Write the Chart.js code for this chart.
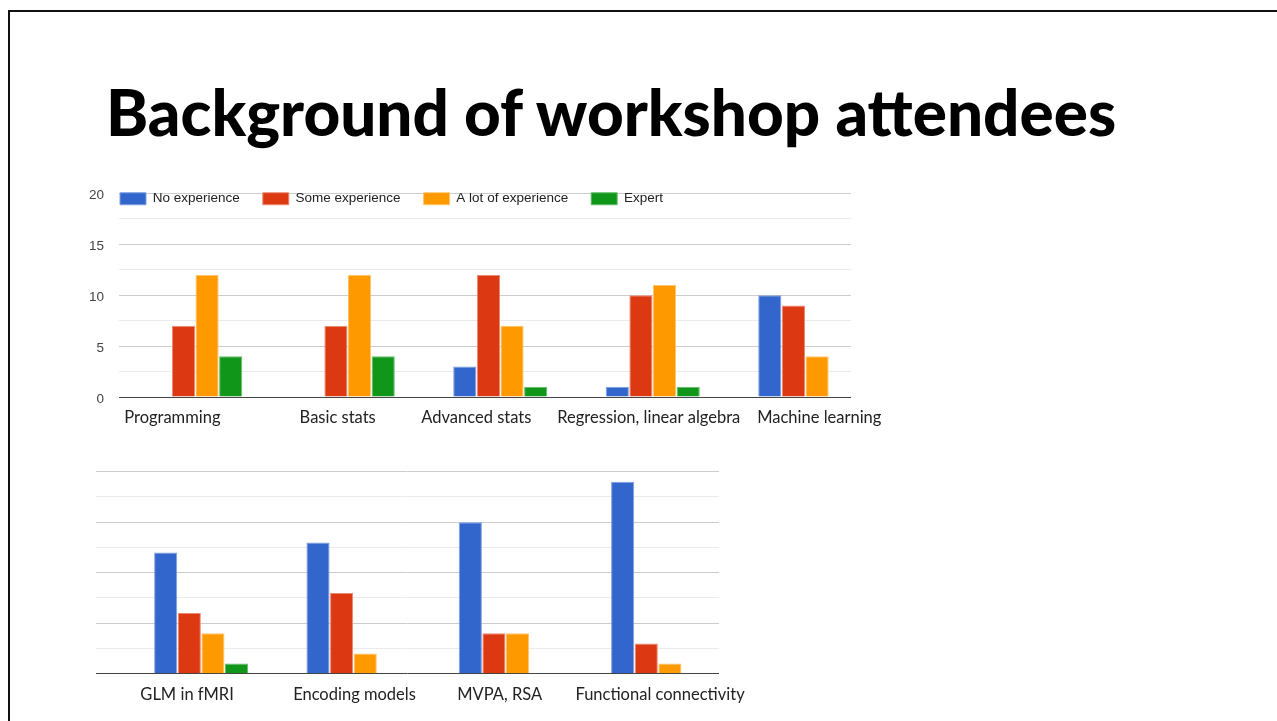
<!DOCTYPE html>
<html>
<head>
<meta charset="utf-8">
<script src="https://cdn.jsdelivr.net/npm/chart.js@4.4.1/dist/chart.umd.min.js"></script>
<style>
  html, body { margin: 0; padding: 0; background: #fff; overflow: hidden; }
  body { width: 1277px; height: 721px; position: relative; }
  #frame { position: absolute; left: 8px; top: 10px; width: 1400px; height: 800px;
           border-top: 2px solid #111; border-left: 2px solid #111; }
  #title { position: absolute; left: 106px; top: 80px; font-family: Lato, sans-serif;
           font-weight: 900; font-size: 64px; line-height: 1; color: #000; white-space: nowrap; }
  #topChart { position: absolute; left: 60px; top: 170px; }
  #bottomChart { position: absolute; left: 60px; top: 450px; }
</style>
</head>
<body>
<div id="frame"></div>
<div id="title">Background of workshop attendees</div>
<canvas id="topChart" width="840" height="270"></canvas>
<canvas id="bottomChart" width="740" height="260"></canvas>
<script>
// experience levels (legend)
const levels = ["No experience", "Some experience", "A lot of experience", "Expert"];

// first chart: general skills
const generalSkills = ["Programming", "Basic stats", "Advanced stats", "Regression, linear algebra", "Machine learning"];
const generalNone = [0, 0, 3, 1, 10];
const generalSome = [7, 7, 12, 10, 9];
const generalLot = [12, 12, 7, 11, 4];
const generalExpert = [4, 4, 1, 1, 0];

// second chart: neuroimaging methods
const fmriSkills = ["GLM in fMRI", "Encoding models", "MVPA, RSA", "Functional connectivity"];
const fmriNone = [12, 13, 15, 19];
const fmriSome = [6, 8, 4, 3];
const fmriLot = [4, 2, 4, 1];
const fmriExpert = [1, 0, 0, 0];

const yMax = 20;
const yStep = 2.5;
const yLabels = [0, 5, 10, 15, 20];

const fills = ["#3366cc", "#dc3912", "#ff9900", "#109618"];
const edges = ["#7f9fe0", "#ec8b73", "#ffc46b", "#64bd6b"];

// on the slide the category labels sit a little off their bar groups
const generalLabelShift = [-0.15, -0.066, -0.157, -0.026, 0.092];
const fmriLabelShift = [-0.092, 0.007, -0.04, 0.013];

// put the legend over the top of the plot, like the Google chart
const legendOverlay = {
  id: "legendOverlay",
  afterLayout(chart) {
    const lg = chart.legend;
    if (!lg || !lg.options.display) return;
    const pad = lg.options.labels.padding;
    lg.left = chart.chartArea.left + 1 - pad;
    lg.top = chart.chartArea.top - 1.5 - pad;
    lg.right = chart.chartArea.right + 40;
    lg.bottom = lg.top + 60;
  }
};

function makeChart(id, cats, series, o) {
  return new Chart(document.getElementById(id), {
    type: "bar",
    data: {
      datasets: series.map((vals, i) => ({
        label: levels[i],
        data: vals.map((v, j) => ({ x: j, y: v })),
        backgroundColor: fills[i],
        borderColor: edges[i],
        borderWidth: 1,
        categoryPercentage: 0.62,
        barPercentage: 0.98
      }))
    },
    options: {
      responsive: false,
      animation: false,
      devicePixelRatio: 1,
      layout: { padding: o.padding },
      plugins: {
        tooltip: { enabled: false },
        legend: {
          display: o.legend,
          position: "top",
          align: "start",
          maxHeight: 1,
          labels: {
            boxWidth: 26,
            boxHeight: 12,
            padding: 23,
            color: "#222",
            font: { family: "'Liberation Sans', Arial, sans-serif", size: 13.5 }
          }
        }
      },
      scales: {
        x: {
          type: "linear",
          min: o.xMin,
          max: o.xMax,
          offset: false,
          afterBuildTicks: s => { s.ticks = cats.map((c, i) => ({ value: i })); },
          afterFit: s => { s.height = 0; },
          grid: { display: false },
          border: { display: false },
          ticks: { display: false }
        },
        xLabels: {
          type: "linear",
          position: "bottom",
          min: o.xMin,
          max: o.xMax,
          offset: false,
          afterBuildTicks: s => { s.ticks = cats.map((c, i) => ({ value: i + o.shift[i] })); },
          afterFit: s => { s.height = o.xHeight; },
          grid: { display: false },
          border: { display: false },
          ticks: {
            autoSkip: false,
            maxRotation: 0,
            padding: 3,
            color: "#222",
            font: { family: "Lato, sans-serif", size: 16.5 },
            callback: (v, i) => cats[i]
          }
        },
        y: {
          min: 0,
          max: yMax,
          afterFit: s => { s.width = o.yWidth; },
          border: { display: false },
          grid: {
            drawTicks: false,
            color: c => c.tick.value === 0 ? "#444" : (yLabels.includes(c.tick.value) ? "#cccccc" : "#ebebeb")
          },
          ticks: {
            display: o.yTicks,
            stepSize: yStep,
            padding: 15,
            labelOffset: 2,
            color: "#444",
            font: { family: "'Liberation Sans', Arial, sans-serif", size: 13.5 },
            callback: v => yLabels.includes(v) ? v : ""
          }
        }
      }
    },
    plugins: [legendOverlay]
  });
}

// fit the title to the width it has on the slide
const title = document.getElementById("title");
const tw = title.getBoundingClientRect().width;
title.style.fontSize = (64 * 1010 / tw).toFixed(1) + "px";

makeChart("topChart", generalSkills,
  [generalNone, generalSome, generalLot, generalExpert],
  { padding: { left: 0, right: 49, top: 22.5, bottom: 0 }, legend: true, yTicks: true,
    xMin: -0.5, xMax: 4.3, xHeight: 43, yWidth: 59, shift: generalLabelShift });

makeChart("bottomChart", fmriSkills,
  [fmriNone, fmriSome, fmriLot, fmriExpert],
  { padding: { left: 0, right: 81, top: 21.7, bottom: 0 }, legend: false, yTicks: false,
    xMin: -0.69, xMax: 3.4, xHeight: 36.3, yWidth: 36, shift: fmriLabelShift });
</script>
</body>
</html>
